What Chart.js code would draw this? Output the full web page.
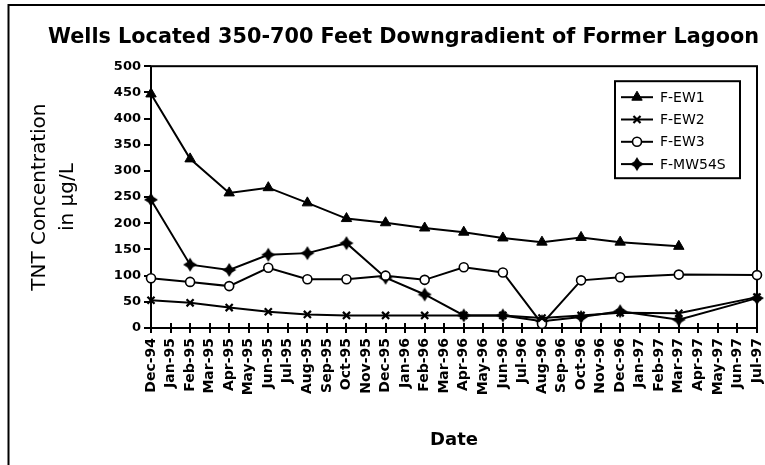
<!DOCTYPE html>
<html>
<head>
<meta charset="utf-8">
<title>Wells Located 350-700 Feet Downgradient of Former Lagoon</title>
<script src="https://cdn.jsdelivr.net/npm/chart.js@4.4.1/dist/chart.umd.min.js"></script>
<style>
  html, body { margin: 0; padding: 0; background: #fff; overflow: hidden; }
  canvas { display: block; }
</style>
</head>
<body>
<canvas id="chart" width="765" height="465"></canvas>
<script>
"use strict";

// sampling months on the x axis
const months = [
    'Dec-94', 'Jan-95', 'Feb-95', 'Mar-95', 'Apr-95', 'May-95', 'Jun-95', 'Jul-95',
    'Aug-95', 'Sep-95', 'Oct-95', 'Nov-95', 'Dec-95', 'Jan-96', 'Feb-96', 'Mar-96',
    'Apr-96', 'May-96', 'Jun-96', 'Jul-96', 'Aug-96', 'Sep-96', 'Oct-96', 'Nov-96',
    'Dec-96', 'Jan-97', 'Feb-97', 'Mar-97', 'Apr-97', 'May-97', 'Jun-97', 'Jul-97'
];

const wellNames = ['F-EW1', 'F-EW2', 'F-EW3', 'F-MW54S'];

// TNT concentration, ug/L (null = not sampled that month)
const few1 = [447, null, 323, null, 258, null, 268, null, 239, null, 209, null, 201, null, 191, null,
              183, null, 172, null, 164, null, 173, null, 164, null, null, 156, null, null, null, null];
const few2 = [53, null, 48, null, 39, null, 31, null, 26, null, 24, null, 24, null, 24, null,
              24, null, 24, null, 19, null, 24, null, 29, null, null, 28, null, null, null, 59];
const few3 = [95, null, 88, null, 80, null, 115, null, 93, null, 93, null, 100, null, 92, null,
              116, null, 106, null, 8, null, 91, null, 97, null, null, 102, null, null, null, 101];
const fmw54s = [245, null, 121, null, 111, null, 140, null, 143, null, 162, null, 96, null, 64, null,
                24, null, 24, null, 13, null, 21, null, 32, null, null, 16, null, null, null, 57];

const yMax = 500;
const yStep = 50;

Chart.defaults.font.family = '"DejaVu Sans", "Liberation Sans", Arial, sans-serif';
Chart.defaults.color = '#000';

// 4 pointed filled star, like the old excel marker
function makeStar(r) {
    const c = document.createElement('canvas');
    c.width = c.height = r * 2 + 2;
    const g = c.getContext('2d');
    const m = r + 1;
    const k = r * 0.38;
    g.fillStyle = '#000';
    g.beginPath();
    g.moveTo(m, m - r);
    g.lineTo(m + k, m - k);
    g.lineTo(m + r, m);
    g.lineTo(m + k, m + k);
    g.lineTo(m, m + r);
    g.lineTo(m - k, m + k);
    g.lineTo(m - r, m);
    g.lineTo(m - k, m - k);
    g.closePath();
    g.fill();
    return c;
}

function series(label, data, style) {
    return Object.assign({
        label: label,
        data: data,
        borderColor: '#000',
        borderWidth: 2,
        backgroundColor: '#000',
        pointBorderColor: '#000',
        pointBackgroundColor: '#000',
        pointBorderWidth: 1,
        pointRadius: 5,
        spanGaps: true,
        tension: 0
    }, style);
}

const datasets = [
    series(wellNames[0], few1, { pointStyle: 'triangle', pointRadius: 6 }),
    series(wellNames[1], few2, { pointStyle: 'crossRot', pointRadius: 5, pointBorderWidth: 2.2 }),
    series(wellNames[2], few3, { pointStyle: 'circle', pointRadius: 4.5, pointBorderWidth: 1.6, pointBackgroundColor: '#fff' }),
    series(wellNames[3], fmw54s, { pointStyle: makeStar(7), pointRadius: 7 })
];

// outer frame + box round the plot area + inner half of the x ticks
const framePlugin = {
    id: 'frame',
    beforeDraw(chart) {
        const ctx = chart.ctx;
        ctx.save();
        ctx.fillStyle = '#fff';
        ctx.fillRect(0, 0, chart.width, chart.height);
        ctx.strokeStyle = '#000';
        ctx.lineWidth = 2;
        ctx.beginPath();
        ctx.moveTo(8.5, chart.height);
        ctx.lineTo(8.5, 5);
        ctx.lineTo(chart.width, 5);
        ctx.stroke();
        ctx.restore();
    },
    beforeDatasetsDraw(chart) {
        const ctx = chart.ctx;
        const a = chart.chartArea;
        ctx.save();
        ctx.strokeStyle = '#000';
        ctx.lineWidth = 2;
        ctx.strokeRect(a.left, a.top, a.right - a.left, a.bottom - a.top);
        const xs = chart.scales.x;
        ctx.beginPath();
        for (let i = 0; i < xs.ticks.length; i++) {
            const px = Math.round(xs.getPixelForTick(i));
            ctx.moveTo(px, a.bottom - 5);
            ctx.lineTo(px, a.bottom);
        }
        ctx.stroke();
        ctx.restore();
    }
};

// boxed legend inside the plot, line + marker like excel
const legendPlugin = {
    id: 'boxLegend',
    afterDraw(chart) {
        const ctx = chart.ctx;
        const a = chart.chartArea;
        const x0 = a.right - 142;
        const y0 = a.top + 15;
        const w = 125, h = 97;
        ctx.save();
        ctx.fillStyle = '#fff';
        ctx.fillRect(x0, y0, w, h);
        ctx.strokeStyle = '#000';
        ctx.lineWidth = 2;
        ctx.strokeRect(x0, y0, w, h);
        ctx.font = '14px "DejaVu Sans", Arial, sans-serif';
        ctx.textBaseline = 'middle';
        ctx.textAlign = 'left';
        chart.data.datasets.forEach((ds, i) => {
            const y = y0 + 16 + i * 22.3;
            ctx.strokeStyle = '#000';
            ctx.lineWidth = 2;
            ctx.beginPath();
            ctx.moveTo(x0 + 6, y);
            ctx.lineTo(x0 + 38, y);
            ctx.stroke();
            ctx.fillStyle = ds.pointBackgroundColor;
            ctx.lineWidth = ds.pointBorderWidth;
            Chart.helpers.drawPoint(ctx, {
                pointStyle: ds.pointStyle,
                radius: ds.pointRadius,
                borderWidth: ds.pointBorderWidth,
                rotation: 0
            }, x0 + 22, y);
            ctx.fillStyle = '#000';
            ctx.fillText(ds.label, x0 + 45, y + 1);
        });
        ctx.restore();
    }
};

new Chart(document.getElementById('chart'), {
    type: 'line',
    data: { labels: months, datasets: datasets },
    plugins: [framePlugin, legendPlugin],
    options: {
        responsive: false,
        animation: false,
        layout: { padding: { left: 48, right: 6, top: 0, bottom: 0 } },
        plugins: {
            legend: { display: false },
            tooltip: { enabled: false },
            title: {
                display: true,
                text: 'Wells Located 350-700 Feet Downgradient of Former Lagoon',
                font: { size: 21, weight: 'bold' },
                padding: { top: 25, bottom: 16 }
            }
        },
        scales: {
            x: {
                offset: false,
                border: { display: false },
                grid: { drawOnChartArea: false, color: '#000', lineWidth: 2, tickLength: 5 },
                ticks: {
                    autoSkip: false,
                    maxRotation: 90,
                    minRotation: 90,
                    padding: 5,
                    font: { size: 14, weight: 'bold' }
                },
                title: {
                    display: true,
                    text: 'Date',
                    font: { size: 18, weight: 'bold' },
                    padding: { top: 0, bottom: 14 }
                },
                afterFit(s) {
                    s.height = 137;
                    s.paddingLeft = 0;
                    s.paddingRight = 0;
                }
            },
            y: {
                min: 0,
                max: yMax,
                border: { display: false },
                grid: { drawOnChartArea: false, color: '#000', lineWidth: 2, tickLength: 7 },
                ticks: {
                    stepSize: yStep,
                    padding: 3,
                    font: { size: 13, weight: 'bold' }
                },
                title: {
                    display: true,
                    text: ['TNT Concentration', 'in \u00b5g/L'],
                    font: { size: 20, lineHeight: 1.4 },
                    padding: { top: -22, bottom: 0 }
                },
                afterFit(s) {
                    s.width = 103;
                }
            }
        }
    }
});
</script>
</body>
</html>
